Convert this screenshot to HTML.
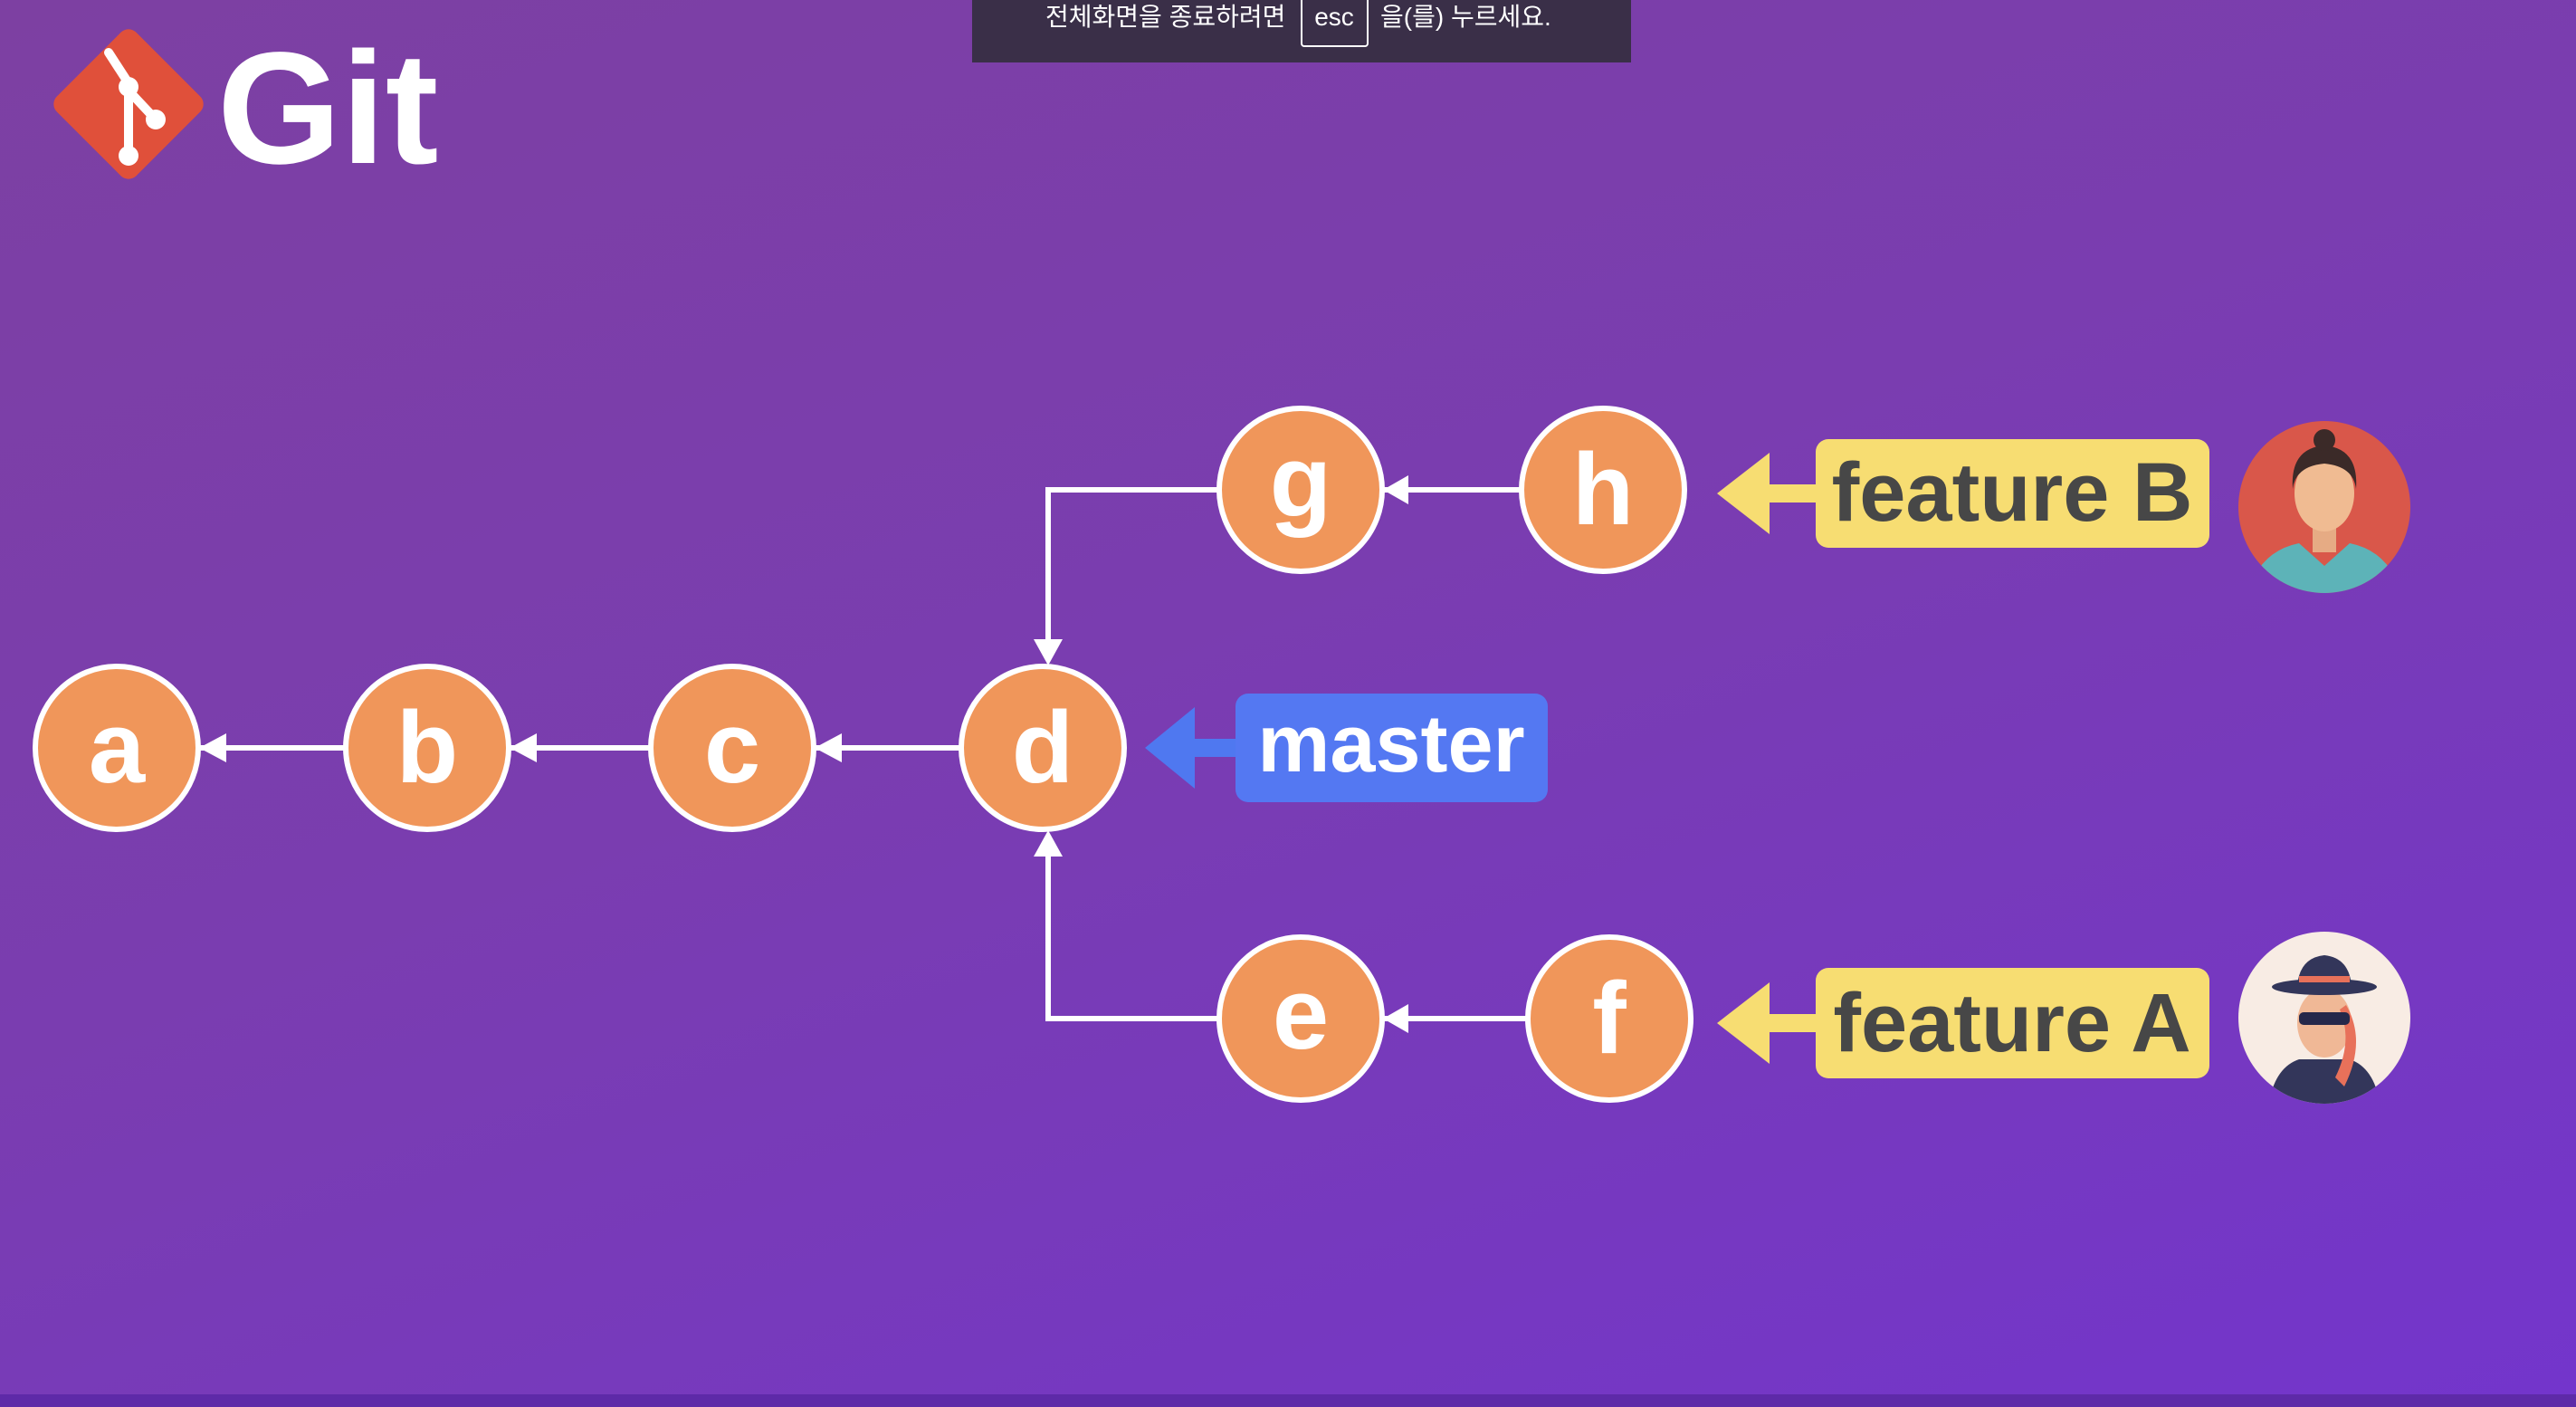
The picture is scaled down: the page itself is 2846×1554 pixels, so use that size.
<!DOCTYPE html>
<html><head><meta charset="utf-8"><style>
html,body{margin:0;padding:0;width:2846px;height:1554px;overflow:hidden}
body{background:linear-gradient(160deg,#7d40a2 0%,#7a3db0 45%,#7335cc 100%)}
svg{position:absolute;left:0;top:0}
</style></head><body>
<svg width="2846" height="1554" viewBox="0 0 2846 1554" xmlns="http://www.w3.org/2000/svg">
<rect x="0" y="1540" width="2846" height="14" fill="#5e2aa8"/>
<!-- git logo -->
<g transform="translate(142,115) rotate(45)">
<rect x="-62" y="-62" width="124" height="124" rx="12" fill="#e0503a"/>
</g>
<g stroke="#fff" stroke-width="10" stroke-linecap="round" fill="none">
<line x1="120" y1="58" x2="142" y2="92"/>
<line x1="142" y1="92" x2="142" y2="175"/>
<line x1="142" y1="100" x2="172" y2="132"/>
</g>
<circle cx="142" cy="96" r="11" fill="#fff"/><circle cx="172" cy="132" r="11" fill="#fff"/><circle cx="142" cy="172" r="11" fill="#fff"/>
<text x="240" y="180" font-family="Liberation Sans,sans-serif" font-weight="bold" font-size="176" fill="#fff">Git</text>
<!-- toast -->
<rect x="1074" y="-5" width="728" height="74" fill="#3a2f48"/>
<text x="1155" y="28" font-family="Liberation Sans,'Noto Sans CJK KR',sans-serif" font-size="28" fill="#fff">전체화면을 종료하려면</text>
<rect x="1438" y="-5" width="73" height="56" rx="3" fill="none" stroke="#fff" stroke-width="2"/>
<text x="1474" y="28" text-anchor="middle" font-family="Liberation Sans,sans-serif" font-size="28" fill="#fff">esc</text>
<text x="1525" y="28" font-family="Liberation Sans,'Noto Sans CJK KR',sans-serif" font-size="28" fill="#fff">을(를) 누르세요.</text>
<!-- connectors -->
<g stroke="#fff" stroke-width="6" fill="none">
<line x1="220" y1="826" x2="381" y2="826"/>
<line x1="563" y1="826" x2="718" y2="826"/>
<line x1="900" y1="826" x2="1061" y2="826"/>
<line x1="1528" y1="541" x2="1680" y2="541"/>
<line x1="1528" y1="1125" x2="1687" y2="1125"/>
<polyline points="1346,541 1158,541 1158,712"/>
<polyline points="1346,1125 1158,1125 1158,942"/>
</g>
<g fill="#fff">
<polygon points="220,826 250,810 250,842"/>
<polygon points="563,826 593,810 593,842"/>
<polygon points="900,826 930,810 930,842"/>
<polygon points="1528,541 1556,525 1556,557"/>
<polygon points="1528,1125 1556,1109 1556,1141"/>
<polygon points="1158,735 1142,706 1174,706"/>
<polygon points="1158,917 1142,946 1174,946"/>
</g>
<!-- nodes -->
<g fill="#f0965a" stroke="#fff" stroke-width="6">
<circle cx="129" cy="826" r="90"/><circle cx="472" cy="826" r="90"/><circle cx="809" cy="826" r="90"/><circle cx="1152" cy="826" r="90"/>
<circle cx="1437" cy="541" r="90"/><circle cx="1771" cy="541" r="90"/><circle cx="1437" cy="1125" r="90"/><circle cx="1778" cy="1125" r="90"/>
</g>
<g font-family="Liberation Sans,sans-serif" font-weight="bold" font-size="112" fill="#fff" text-anchor="middle">
<text x="129" y="864">a</text><text x="472" y="864">b</text><text x="809" y="864">c</text><text x="1152" y="864">d</text>
<text x="1437" y="570">g</text><text x="1771" y="579">h</text><text x="1437" y="1158">e</text><text x="1778" y="1163">f</text>
</g>
<!-- master -->
<polygon points="1265,826 1320,781 1320,871" fill="#4f78f0"/>
<rect x="1315" y="816" width="60" height="20" fill="#4f78f0"/>
<rect x="1365" y="766" width="345" height="120" rx="14" fill="#5478f2"/>
<text x="1537" y="852" text-anchor="middle" font-family="Liberation Sans,sans-serif" font-weight="bold" font-size="90" fill="#fff">master</text>
<!-- feature B -->
<polygon points="1897,545 1955,500 1955,590" fill="#f7dd72"/>
<rect x="1950" y="535" width="70" height="20" fill="#f7dd72"/>
<rect x="2006" y="485" width="435" height="120" rx="14" fill="#f7dd72"/>
<text x="2223" y="575" text-anchor="middle" font-family="Liberation Sans,sans-serif" font-weight="bold" font-size="92" fill="#474747">feature B</text>
<!-- feature A -->
<polygon points="1897,1130 1955,1085 1955,1175" fill="#f7dd72"/>
<rect x="1950" y="1120" width="70" height="20" fill="#f7dd72"/>
<rect x="2006" y="1069" width="435" height="122" rx="14" fill="#f7dd72"/>
<text x="2223" y="1161" text-anchor="middle" font-family="Liberation Sans,sans-serif" font-weight="bold" font-size="92" fill="#474747">feature A</text>
<!-- avatar B -->
<defs><clipPath id="cb"><circle cx="2568" cy="560" r="95"/></clipPath><clipPath id="ca"><circle cx="2568" cy="1124" r="95"/></clipPath></defs>
<circle cx="2568" cy="560" r="95" fill="#d9574a"/>
<g clip-path="url(#cb)">
<path d="M2480 670 Q2490 610 2540 600 L2568 625 L2596 600 Q2646 610 2656 670 Z" fill="#5db3b8"/>
<rect x="2555" y="580" width="26" height="30" fill="#e6ab84"/>
<ellipse cx="2568" cy="545" rx="33" ry="42" fill="#f0bb92"/>
<path d="M2533 540 Q2530 495 2568 492 Q2606 495 2603 540 Q2600 515 2568 512 Q2536 515 2533 540Z" fill="#3b2a28"/>
<circle cx="2568" cy="486" r="12" fill="#3b2a28"/>
</g>
<!-- avatar A -->
<circle cx="2568" cy="1124" r="95" fill="#f8ece4"/>
<g clip-path="url(#ca)">
<path d="M2505 1230 Q2510 1180 2540 1170 L2596 1170 Q2626 1180 2631 1230 Z" fill="#33365a"/>
<ellipse cx="2568" cy="1130" rx="30" ry="38" fill="#f0b896"/>
<path d="M2592 1110 Q2615 1150 2590 1200 L2580 1190 Q2600 1150 2585 1115Z" fill="#e8715a"/>
<rect x="2540" y="1118" width="56" height="14" rx="5" fill="#26284a"/>
<ellipse cx="2568" cy="1090" rx="58" ry="9" fill="#33365a"/>
<path d="M2538 1090 Q2540 1058 2568 1055 Q2596 1058 2598 1090Z" fill="#33365a"/>
<rect x="2540" y="1078" width="56" height="7" fill="#e8715a"/>
</g>
</svg>
</body></html>
